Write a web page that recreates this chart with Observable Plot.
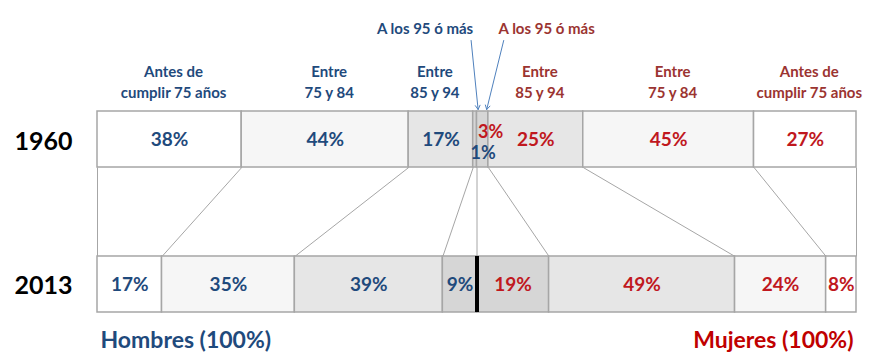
<!DOCTYPE html>
<html><head><meta charset="utf-8">
<script src="https://cdn.jsdelivr.net/npm/d3@7"></script>
<script src="https://cdn.jsdelivr.net/npm/@observablehq/plot@0.6"></script>
<style>body{margin:0;background:#fff;} #chart svg{display:block;}</style>
</head><body><div id="chart"></div>
<script>
// ---- data ----
const years = ["1960", "2013"];
const sexes = ["Hombres", "Mujeres"];
const ageGroupsMen = ["Antes de\ncumplir 75 años", "Entre\n75 y 84", "Entre\n85 y 94", "A los 95 ó más"];
const ageGroupsWomen = ["A los 95 ó más", "Entre\n85 y 94", "Entre\n75 y 84", "Antes de\ncumplir 75 años"];
const men1960 = [38, 44, 17, 1];
const women1960 = [3, 25, 45, 27];
const men2013 = [17, 35, 39, 9];
const women2013 = [19, 49, 24, 8];
const sexTotals = ["Hombres (100%)", "Mujeres (100%)"];

// ---- style / layout ----
const BLUE = "#1f4a7c", RED = "#c0181e", HEADRED = "#9b3431", ARROW = "#4f81bd";
const ageFills = ["#ffffff", "#f6f6f6", "#e6e6e6", "#d6d6d6"]; // <75, 75-84, 85-94, 95+
const rowTop = [0, 2.589];
const FONT = "Lato, 'Open Sans', sans-serif";

// ---- build segments ----
const segs = [];
const bounds = [];
years.forEach((yr, ri) => {
  const parts = [[men1960, men2013][ri], [women1960, women2013][ri]];
  let cum = 0;
  const b = [0];
  parts.forEach((vals, si) => {
    vals.forEach((v, i) => {
      segs.push({
        year: yr, row: ri, sex: sexes[si],
        age: si === 0 ? ageGroupsMen[i] : ageGroupsWomen[i],
        ageIdx: si === 0 ? i : 3 - i,
        value: v, x1: cum, x2: cum + v, mid: cum + v / 2,
        y1: rowTop[ri], y2: rowTop[ri] + 1, ymid: rowTop[ri] + 0.5
      });
      cum += v;
      b.push(cum);
    });
  });
  bounds.push(b);
});
const links = bounds[0].map((b, i) => ({x1: b, x2: bounds[1][i]}));

const xs = Plot.scale({x: {domain: [0, 200], range: [97, 856]}});
const ys = Plot.scale({y: {domain: [0, 3.589], range: [111, 312]}});
const seg95 = segs.filter(d => d.row === 0 && d.ageIdx === 3);
const arrows = seg95.map((d, i) => {
  const cx = xs.apply(d.mid);
  const off = i === 0 ? [-4, 3] : [21, 4];
  return {
    sex: d.sex,
    x1: xs.invert(cx + off[0]), y1: ys.invert(40),
    x2: xs.invert(cx + off[1]), y2: ys.invert(109)
  };
});

const colorOf = d => d.sex === "Hombres" ? BLUE : RED;
const headColor = d => d.sex === "Hombres" ? BLUE : HEADRED;
const headers = segs.filter(d => d.row === 0 && d.ageIdx < 3);

const chart = Plot.plot({
  width: 869, height: 360, margin: 0,
  style: {fontFamily: FONT, background: "white"},
  x: {domain: [0, 200], range: [97, 856], axis: null},
  y: {domain: [0, 3.589], range: [111, 312], axis: null},
  marks: [
    Plot.link(links, {x1: "x1", y1: () => rowTop[0] + 1, x2: "x2", y2: () => rowTop[1], stroke: "#a6a6a6", strokeWidth: 1}),
    Plot.rect(segs, {x1: "x1", x2: "x2", y1: "y1", y2: "y2", fill: d => ageFills[d.ageIdx], stroke: "#a6a6a6", strokeWidth: 1.5}),
    Plot.ruleX([100], {y1: rowTop[1], y2: rowTop[1] + 1, stroke: "black", strokeWidth: 4}),
    // percentages
    Plot.text(segs.filter(d => !(d.row === 0 && d.ageIdx === 3)), {x: "mid", y: "ymid", text: d => d.value + "%", fill: colorOf, fontSize: 19, fontWeight: "bold"}),
    Plot.text(seg95.filter(d => d.sex === "Hombres"), {x: "mid", y: "ymid", text: d => d.value + "%", fill: colorOf, fontSize: 18, fontWeight: "bold", dx: 8, dy: 14}),
    Plot.text(seg95.filter(d => d.sex === "Mujeres"), {x: "mid", y: "ymid", text: d => d.value + "%", fill: colorOf, fontSize: 18, fontWeight: "bold", dx: 8, dy: -7}),
    // headers
    Plot.text(headers.filter(d => !(d.sex === "Hombres" && d.ageIdx === 2)), {x: "mid", y: "y1", text: "age", fill: headColor, fontSize: 15, fontWeight: "bold", lineAnchor: "bottom", lineHeight: 1.35, dy: -14, dx: 4}),
    Plot.text(headers.filter(d => d.sex === "Hombres" && d.ageIdx === 2), {x: "mid", y: "y1", text: "age", fill: headColor, fontSize: 15, fontWeight: "bold", lineAnchor: "bottom", lineHeight: 1.35, dy: -14, dx: -6}),
    Plot.text(seg95.filter(d => d.sex === "Hombres"), {x: "mid", y: "y1", text: "age", fill: BLUE, fontSize: 15, fontWeight: "bold", lineAnchor: "bottom", dy: -78, dx: -50}),
    Plot.text(seg95.filter(d => d.sex === "Mujeres"), {x: "mid", y: "y1", text: "age", fill: HEADRED, fontSize: 15, fontWeight: "bold", lineAnchor: "bottom", dy: -78, dx: 64}),
    Plot.arrow(arrows, {x1: "x1", y1: "y1", x2: "x2", y2: "y2", stroke: ARROW, strokeWidth: 1, headLength: 7}),
    // years
    Plot.text(years, {frameAnchor: "left", y: (d, i) => rowTop[i] + 0.5, text: d => d, textAnchor: "middle", dx: 43, dy: 2, fontSize: 25, fontWeight: "bold", fill: "black"}),
    // totals
    Plot.text([sexTotals[0]], {frameAnchor: "bottom-left", text: d => d, textAnchor: "start", lineAnchor: "bottom", dx: 100, dy: -13, fontSize: 23, fontWeight: "bold", fill: BLUE}),
    Plot.text([sexTotals[1]], {frameAnchor: "bottom-right", text: d => d, textAnchor: "end", lineAnchor: "bottom", dx: -16, dy: -13, fontSize: 23, fontWeight: "bold", fill: "#c00000"})
  ]
});
document.getElementById("chart").appendChild(chart);
</script>
</body></html>
